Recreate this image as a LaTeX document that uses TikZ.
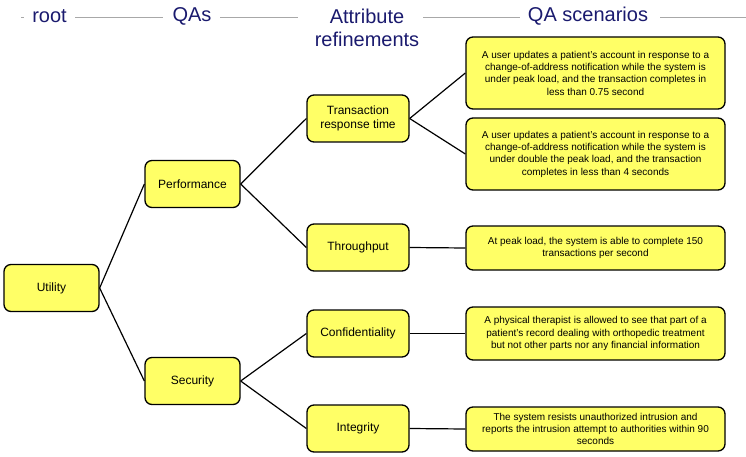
\documentclass[tikz,border=0pt]{standalone}
\usepackage{fontspec}
\setmainfont{Liberation Sans}
\definecolor{boxyellow}{HTML}{FFFF66}
\definecolor{headblue}{HTML}{1A1A6E}
\definecolor{ruleg}{HTML}{A8A8A8}
\begin{document}
\begin{tikzpicture}[x=1pt,y=1pt,
  box/.style={draw=black,line width=1.3pt,fill=boxyellow,rounded corners=7pt,align=center,inner sep=0pt},
  mid/.style={box,minimum width=102pt,minimum height=47pt,font=\fontsize{12}{14.5}\selectfont},
  scen/.style={box,minimum width=259pt,font=\fontsize{10}{12.3}\selectfont},
  head/.style={text=headblue,font=\fontsize{20}{23}\selectfont,inner sep=0pt,align=center},
  hrule/.style={draw=ruleg,line width=0.8pt},
  conn/.style={draw=black,line width=1.2pt}]
\useasboundingbox (0,0) rectangle (746,-457);
% headers
\node[head] (hroot) at (49.5,-16) {root};
\node[head] (hqa) at (192,-16) {QAs};
\node[head] (hattr) at (367,-27.5) {Attribute\\refinements};
\node[head] (hscen) at (588,-16) {QA scenarios};
\coordinate (l0a) at (21,-17); \coordinate (l0b) at (24,-17);
\coordinate (l1a) at (75,-17); \coordinate (l1b) at (163,-17);
\coordinate (l2a) at (220,-17); \coordinate (l2b) at (298,-17);
\coordinate (l3a) at (423,-17); \coordinate (l3b) at (520,-17);
\coordinate (l4a) at (660,-17); \coordinate (l4b) at (746,-17);
\draw[hrule] (l0a) -- (l0b);
\draw[hrule] (l1a) -- (l1b);
\draw[hrule] (l2a) -- (l2b);
\draw[hrule] (l3a) -- (l3b);
\draw[hrule] (l4a) -- (l4b);
% nodes
\node[mid,minimum width=95pt] (util) at (51.5,-288) {Utility};
\node[mid,minimum width=95pt] (perf) at (192.5,-184) {Performance};
\node[mid,minimum width=95pt] (sec) at (192.5,-381) {Security};
\node[mid] (trt) at (358,-118.5) {Transaction\\response time};
\node[mid] (thr) at (358,-247.5) {Throughput};
\node[mid] (conf) at (358,-333.5) {Confidentiality};
\node[mid] (integ) at (358,-428.5) {Integrity};
\node[scen,minimum height=72pt] (s1) at (595.5,-73) {A user updates a patient's account in response to a\\change-of-address notification while the system is\\under peak load, and the transaction completes in\\less than 0.75 second};
\node[scen,minimum height=72pt] (s2) at (595.5,-154) {A user updates a patient's account in response to a\\change-of-address notification while the system is\\under double the peak load, and the transaction\\completes in less than 4 seconds};
\node[scen,minimum height=44pt] (s3) at (595.5,-248) {At peak load, the system is able to complete 150\\transactions per second};
\node[scen,minimum height=53pt] (s4) at (595.5,-333.5) {A physical therapist is allowed to see that part of a\\patient's record dealing with orthopedic treatment\\but not other parts nor any financial information};
\node[scen,minimum height=44pt] (s5) at (595.5,-429) {The system resists unauthorized intrusion and\\reports the intrusion attempt to authorities within 90\\seconds};
% connectors
\draw[conn] (util.east) -- (perf.west);
\draw[conn] (util.east) -- (sec.west);
\draw[conn] (perf.east) -- (trt.west);
\draw[conn] (perf.east) -- (thr.west);
\draw[conn] (sec.east) -- (conf.west);
\draw[conn] (sec.east) -- (integ.west);
\draw[conn] (trt.east) -- (s1.west);
\draw[conn] (trt.east) -- (s2.west);
\draw[conn] (thr.east) -- (s3.west);
\draw[conn] (conf.east) -- (s4.west);
\draw[conn] (integ.east) -- (s5.west);
\end{tikzpicture}
\end{document}
